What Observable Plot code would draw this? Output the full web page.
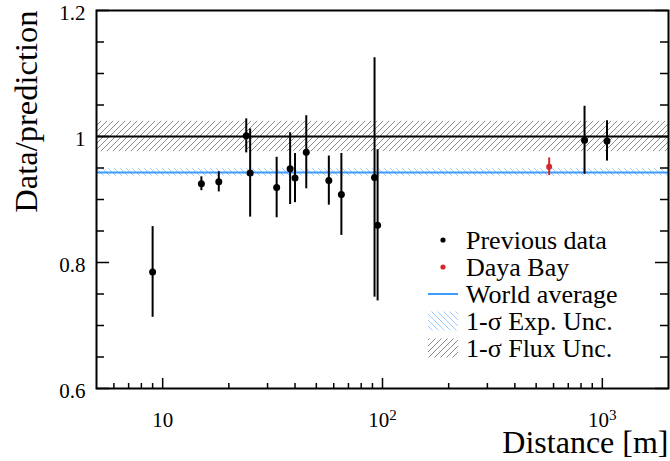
<!DOCTYPE html>
<html>
<head>
<meta charset="utf-8">
<script src="https://cdn.jsdelivr.net/npm/d3@7"></script>
<script src="https://cdn.jsdelivr.net/npm/@observablehq/plot@0.6"></script>
<style>
  html, body { margin: 0; padding: 0; background: #fff; }
  #chart svg { display: block; }
</style>
</head>
<body>
<div id="chart"></div>
<script>
// ---- data ----
const prevDistance = [9, 15, 18, 24, 25, 33, 38, 40, 45, 57, 65, 92, 95, 830, 1050];
const prevRatio    = [0.785, 0.925, 0.928, 1.001, 0.942, 0.919, 0.949, 0.934, 0.975, 0.930, 0.908, 0.935, 0.859, 0.994, 0.993];
const prevError    = [0.072, 0.011, 0.016, 0.027, 0.070, 0.048, 0.057, 0.039, 0.058, 0.039, 0.065, 0.190, 0.120, 0.054, 0.032];

const dayaBayDistance = [573];
const dayaBayRatio    = [0.952];
const dayaBayError    = [0.014];

const worldAverage = 0.943;
const expUnc = 0.006;
const fluxCenter = 1.0;
const fluxUnc = 0.024;

const xDomain = [5, 2000];
const yDomain = [0.6, 1.2];
const xMajorTicks = [10, 100, 1000];
const xMajorLabels = ["10", "10²", "10³"];
const xMinorTicks = [6, 7, 8, 9, 20, 30, 40, 50, 60, 70, 80, 90, 200, 300, 400, 500, 600, 700, 800, 900];
const yMajorTicks = [0.6, 0.8, 1.0, 1.2];
const yMajorLabels = ["0.6", "0.8", "1", "1.2"];
const yMinorTicks = [0.65, 0.7, 0.75, 0.85, 0.9, 0.95, 1.05, 1.1, 1.15];

const xTitle = "Distance [m]";
const yTitle = "Data/prediction";
const legendLabels = ["Previous data", "Daya Bay", "World average", "1-σ Exp. Unc.", "1-σ Flux Unc."];

// ---- tables ----
const prev = prevDistance.map((d, i) => ({d, r: prevRatio[i], e: prevError[i]}));
const dyb = dayaBayDistance.map((d, i) => ({d, r: dayaBayRatio[i], e: dayaBayError[i]}));
const bands = [
  {c: fluxCenter, h: fluxUnc, fill: "url(#hatchFlux)"},
  {c: worldAverage, h: expUnc, fill: "url(#hatchExp)"}
];

// ---- layout ----
const W = 670, H = 461, mL = 96, mR = 2, mT = 10, mB = 73;
const fW = W - mL - mR, fH = H - mT - mB;
const FONT = "Liberation Serif, Times New Roman, serif";
const BLUE = "#3d9bff";
const RED = "#d42a2a";

const chart = Plot.plot({
  width: W, height: H,
  marginLeft: mL, marginRight: mR, marginTop: mT, marginBottom: mB,
  style: {fontFamily: FONT, background: "#fff", color: "#000"},
  x: {type: "log", domain: xDomain},
  y: {domain: yDomain},
  marks: [
    // bands
    Plot.rect(bands, {x1: () => xDomain[0], x2: () => xDomain[1], y1: d => d.c - d.h, y2: d => d.c + d.h, fill: d => d.fill}),
    // reference lines
    Plot.ruleY([fluxCenter], {stroke: "#000", strokeWidth: 2}),
    Plot.ruleY([worldAverage], {stroke: BLUE, strokeWidth: 2}),
    // previous data
    Plot.ruleX(prev, {x: "d", y1: d => d.r - d.e, y2: d => d.r + d.e, stroke: "#000", strokeWidth: 2}),
    Plot.dot(prev, {x: "d", y: "r", r: 3.5, fill: "#000", stroke: null}),
    // Daya Bay
    Plot.ruleX(dyb, {x: "d", y1: d => d.r - d.e, y2: d => d.r + d.e, stroke: RED, strokeWidth: 2}),
    Plot.dot(dyb, {x: "d", y: "r", r: 3, fill: RED, stroke: null}),
    // inward ticks
    Plot.tickX(xMajorTicks, {x: d => d, insetTop: fH - 10, stroke: "#000", strokeWidth: 1.5}),
    Plot.tickX(xMinorTicks, {x: d => d, insetTop: fH - 5, stroke: "#000", strokeWidth: 1.5}),
    Plot.tickY(yMajorTicks, {y: d => d, insetRight: fW - 13, stroke: "#000", strokeWidth: 1.5}),
    Plot.tickY(yMinorTicks, {y: d => d, insetRight: fW - 8, stroke: "#000", strokeWidth: 1.5}),
    Plot.tickY(yMajorTicks, {y: d => d, insetLeft: fW - 13, stroke: "#000", strokeWidth: 1.5}),
    Plot.tickY(yMinorTicks, {y: d => d, insetLeft: fW - 8, stroke: "#000", strokeWidth: 1.5}),
    // axes labels
    Plot.axisX({ticks: xMajorTicks, tickSize: 0, tickPadding: 24, fontSize: 21,
      tickFormat: d => xMajorLabels[xMajorTicks.indexOf(d)], label: null}),
    Plot.axisY({ticks: yMajorTicks, tickSize: 0, tickPadding: 11, fontSize: 21, dy: 2.5,
      tickFormat: d => yMajorLabels[yMajorTicks.indexOf(d)], label: null}),
    // titles
    Plot.text([xTitle], {frameAnchor: "bottom-right", text: d => d, textAnchor: "end", lineAnchor: "middle", dy: 54, fontSize: 32, fill: "#000"}),
    Plot.text([yTitle], {frameAnchor: "top-left", text: d => d, textAnchor: "end", lineAnchor: "middle", rotate: -90, dx: -70, fontSize: 32.5, fill: "#000"}),
    Plot.frame({stroke: "#000", strokeWidth: 2})
  ]
});

const svg = d3.select(chart);

// superscript exponents in x tick labels (ROOT style)
const supMap = {"²": "2", "³": "3"};
svg.selectAll('g[aria-label="x-axis tick label"] text').each(function () {
  const t = d3.select(this);
  const s = t.text();
  const m = s.match(/^(\d+)([²³])$/);
  if (m) {
    t.text(m[1]);
    t.append("tspan").attr("dy", "-0.5em").attr("font-size", "0.72em").text(supMap[m[2]]);
  }
});

// hatch patterns
const defs = svg.insert("defs", ":first-child");
const pf = defs.append("pattern").attr("id", "hatchFlux").attr("patternUnits", "userSpaceOnUse")
  .attr("width", 6).attr("height", 6);
pf.append("path").attr("d", "M-1,1 l2,-2 M0,6 l6,-6 M5,7 l2,-2").attr("stroke", "#8a8a8a").attr("stroke-width", 1).attr("fill", "none");
const pe = defs.append("pattern").attr("id", "hatchExp").attr("patternUnits", "userSpaceOnUse")
  .attr("width", 6).attr("height", 6);
pe.append("path").attr("d", "M-1,5 l2,2 M0,0 l6,6 M5,-1 l2,2").attr("stroke", "#9fcbff").attr("stroke-width", 1).attr("fill", "none");

// legend
const lg = svg.append("g").attr("font-family", FONT).attr("font-size", 26).attr("text-anchor", "start");
const rowY = i => 240 + 27 * i;
const symX0 = 428, symX1 = 458, textX = 466;
lg.append("circle").attr("cx", (symX0 + symX1) / 2).attr("cy", rowY(0)).attr("r", 2.6).attr("fill", "#000");
lg.append("circle").attr("cx", (symX0 + symX1) / 2).attr("cy", rowY(1)).attr("r", 2.6).attr("fill", RED);
lg.append("line").attr("x1", symX0).attr("x2", symX1).attr("y1", rowY(2)).attr("y2", rowY(2)).attr("stroke", BLUE).attr("stroke-width", 2);
lg.append("rect").attr("x", symX0).attr("y", rowY(3) - 9.5).attr("width", symX1 - symX0).attr("height", 19).attr("fill", "url(#hatchExp)");
lg.append("rect").attr("x", symX0).attr("y", rowY(4) - 9.5).attr("width", symX1 - symX0).attr("height", 19).attr("fill", "url(#hatchFlux)");
legendLabels.forEach((t, i) => {
  lg.append("text").attr("x", textX).attr("y", rowY(i)).attr("dy", "0.33em").attr("text-anchor", "start").attr("fill", "#000").text(t);
});

document.getElementById("chart").appendChild(chart);
</script>
</body>
</html>
